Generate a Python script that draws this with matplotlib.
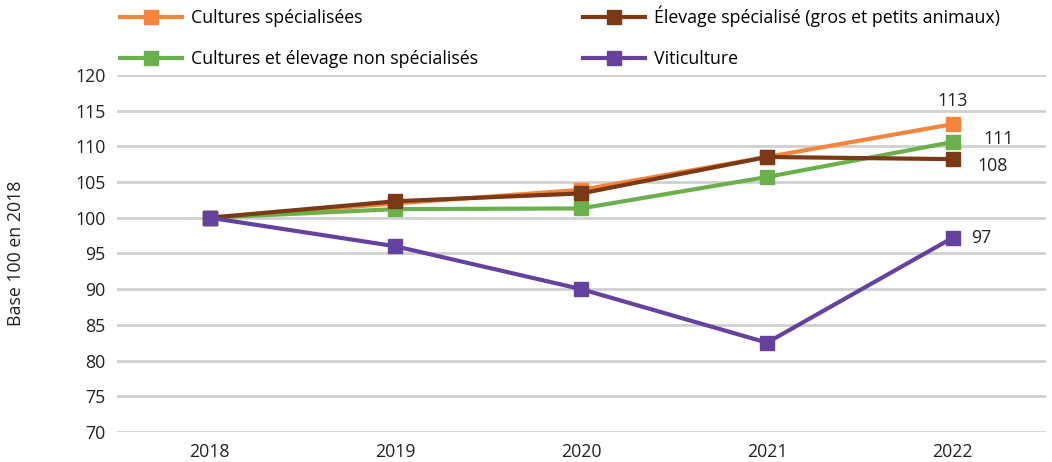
import matplotlib.pyplot as plt
from matplotlib.lines import Line2D

plt.rcParams['font.family'] = ['Open Sans', 'DejaVu Sans']

years = ['2018', '2019', '2020', '2021', '2022']
cultures_spe = [100, 102.0, 103.9, 108.5, 113.1]
cultures_elevage = [100, 101.2, 101.3, 105.7, 110.6]
elevage_spe = [100, 102.3, 103.4, 108.5, 108.2]
viticulture = [100, 96.0, 90.0, 82.5, 97.2]

labels = ['Cultures spécialisées', 'Cultures et élevage non spécialisés',
          'Élevage spécialisé (gros et petits animaux)', 'Viticulture']
end_labels = ['113', '111', '108', '97']

colors = ['#F5843C', '#6AB04C', '#7C3915', '#6542A0']

fig = plt.figure(figsize=(10.52, 4.62), dpi=100)
ax = fig.add_axes([0.111, 0.065, 0.883, 0.773])

fs = 12.8
x = range(len(years))
series = [cultures_spe, cultures_elevage, elevage_spe, viticulture]
z = [3, 4, 5, 6]
for s, c, lab, zz in zip(series, colors, labels, z):
    ax.plot(x, s, color=c, lw=3, marker='s', markersize=10, label=lab, zorder=zz)

# value labels at the end
ax.annotate(end_labels[0], (4, cultures_spe[-1]), xytext=(0, 10), textcoords='offset points',
            ha='center', va='bottom', fontsize=fs, color='#222222')
ax.annotate(end_labels[1], (4, cultures_elevage[-1]), xytext=(22, 2), textcoords='offset points',
            ha='left', va='center', fontsize=fs, color='#222222')
ax.annotate(end_labels[2], (4, elevage_spe[-1]), xytext=(18, -5), textcoords='offset points',
            ha='left', va='center', fontsize=fs, color='#222222')
ax.annotate(end_labels[3], (4, viticulture[-1]), xytext=(13, 0), textcoords='offset points',
            ha='left', va='center', fontsize=fs, color='#222222')

ax.set_xlim(-0.5, 4.5)
ax.set_ylim(70, 120)
ax.set_yticks(range(70, 121, 5))
ax.set_xticks(list(x))
ax.set_xticklabels(years)
ax.tick_params(length=0, labelsize=fs, colors='#222222')
ax.tick_params(axis='x', pad=8)
ax.tick_params(axis='y', pad=8)
ax.grid(axis='y', color='#D0D0D0', lw=2)
ax.set_axisbelow(True)
for sp in ax.spines.values():
    sp.set_visible(False)
ax.set_ylabel('Base 100 en 2018', fontsize=fs, color='#222222', labelpad=36)

handles = [Line2D([0], [0], color=c, lw=3, marker='s', markersize=10) for c in colors]
fig.legend(handles, labels, ncol=2, loc='upper left', bbox_to_anchor=(0.099, 1.022),
           frameon=False, fontsize=fs, handlelength=3.5, columnspacing=5.9,
           labelspacing=1.3, handletextpad=0.5)

fig.savefig('out.png', dpi=100)
